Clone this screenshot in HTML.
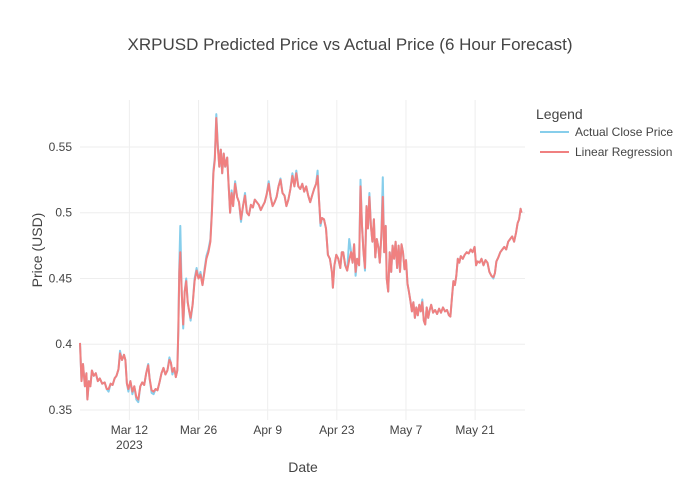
<!DOCTYPE html>
<html><head><meta charset="utf-8"><style>
body{margin:0;background:#fff}
svg{font-family:"Liberation Sans",Arial,sans-serif;display:block}
</style></head><body>
<svg id="chart" width="700" height="500">
<text x="350" y="50" text-anchor="middle" font-size="17" fill="#444">XRPUSD Predicted Price vs Actual Price (6 Hour Forecast)</text>
<g id="grid"></g><g id="series"></g><g id="axes"></g>
<text x="303" y="472" text-anchor="middle" font-size="14" fill="#444">Date</text>
<text transform="translate(42,250) rotate(-90)" text-anchor="middle" font-size="14" fill="#444">Price (USD)</text>
<g>
<text x="536" y="119" font-size="14" fill="#444">Legend</text>
<g><line x1="540" y1="132" x2="569" y2="132" stroke="#87CEEB" stroke-width="2"/><text x="575" y="136" font-size="12" fill="#444">Actual Close Price</text></g>
<g><line x1="540" y1="152" x2="569" y2="152" stroke="#F08080" stroke-width="2"/><text x="575" y="156" font-size="12" fill="#444">Linear Regression</text></g>
</g>
</svg>
<script>
// days since 2023-03-01
const days=[1.0,1.3,1.6,2.0,2.3,2.5,2.8,3.1,3.4,3.8,4.2,4.6,5.0,5.5,6.0,6.4,6.8,7.2,7.6,8.0,8.4,8.8,9.1,9.5,9.9,10.2,10.5,10.8,11.2,11.6,12.0,12.4,12.8,13.2,13.6,14.0,14.4,14.8,15.1,15.5,15.9,16.3,16.7,17.1,17.5,17.9,18.3,18.7,19.1,19.4,19.7,20.1,20.4,20.7,20.9,21.1,21.3,21.6,21.9,22.2,22.5,22.8,23.1,23.4,23.8,24.2,24.6,25.0,25.4,25.8,26.2,26.6,27.0,27.4,27.7,28.0,28.3,28.6,28.9,29.2,29.5,29.8,30.1,30.4,30.8,31.1,31.4,31.7,32.0,32.4,32.8,33.2,33.6,34.0,34.4,34.8,35.2,35.6,36.0,36.4,36.8,37.2,37.6,38.0,38.4,38.8,39.2,39.6,40.0,40.4,40.8,41.2,41.6,42.0,42.4,42.8,43.2,43.6,44.0,44.4,44.8,45.2,45.6,46.0,46.4,46.8,47.2,47.6,48.0,48.4,48.8,49.1,49.4,49.7,50.0,50.4,50.8,51.2,51.6,52.0,52.2,52.5,52.9,53.3,53.7,54.0,54.3,54.7,55.1,55.5,55.9,56.2,56.5,56.8,57.1,57.5,57.8,58.1,58.4,58.7,59.0,59.3,59.6,59.9,60.2,60.5,60.8,61.1,61.4,61.7,62.0,62.3,62.6,62.9,63.1,63.4,63.7,64.0,64.3,64.6,64.9,65.2,65.5,65.8,66.1,66.4,66.7,67.0,67.3,67.6,67.9,68.2,68.5,68.8,69.1,69.4,69.7,70.0,70.3,70.6,70.9,71.2,71.5,71.8,72.1,72.5,72.9,73.3,73.7,74.1,74.5,74.9,75.3,75.7,76.0,76.3,76.6,76.9,77.2,77.5,77.8,78.1,78.5,78.9,79.3,79.7,80.1,80.5,80.9,81.2,81.5,81.9,82.3,82.7,83.1,83.5,83.9,84.3,84.7,85.0,85.3,85.7,86.1,86.5,86.9,87.3,87.7,88.1,88.5,88.9,89.3,89.6,89.9,90.2,90.4];
const actual=[.401,.372,.385,.368,.378,.358,.372,.368,.380,.376,.378,.372,.374,.370,.371,.366,.364,.370,.369,.374,.376,.381,.395,.388,.392,.388,.370,.364,.372,.362,.368,.358,.356,.368,.371,.369,.378,.385,.374,.363,.362,.366,.365,.371,.378,.382,.377,.380,.390,.386,.377,.382,.375,.380,.410,.460,.490,.440,.412,.440,.450,.432,.425,.418,.430,.450,.458,.450,.455,.445,.457,.467,.472,.480,.502,.532,.542,.575,.552,.535,.548,.530,.545,.535,.542,.520,.500,.517,.505,.524,.512,.508,.493,.505,.515,.500,.498,.506,.504,.510,.508,.506,.502,.505,.508,.514,.524,.512,.505,.508,.512,.520,.526,.515,.513,.505,.510,.518,.530,.520,.532,.520,.518,.522,.516,.520,.513,.508,.513,.518,.522,.532,.510,.490,.496,.495,.488,.468,.465,.455,.443,.460,.468,.465,.458,.470,.470,.460,.456,.480,.470,.462,.476,.452,.465,.460,.525,.490,.470,.456,.505,.488,.515,.490,.478,.495,.466,.480,.474,.462,.482,.527,.470,.490,.450,.440,.470,.455,.475,.465,.478,.458,.475,.455,.476,.470,.457,.464,.446,.440,.433,.425,.432,.420,.428,.422,.430,.425,.434,.418,.415,.428,.420,.426,.430,.424,.426,.423,.427,.424,.428,.425,.426,.422,.421,.435,.448,.445,.452,.465,.462,.467,.465,.468,.470,.469,.472,.470,.474,.460,.463,.462,.465,.460,.464,.462,.455,.452,.450,.454,.463,.466,.470,.472,.474,.472,.478,.480,.482,.478,.485,.492,.495,.503,.500];
const predicted=[.401,.372,.385,.368,.378,.358,.372,.368,.380,.376,.378,.372,.374,.370,.371,.366,.366,.370,.369,.374,.376,.381,.393,.388,.392,.388,.370,.366,.372,.364,.368,.360,.358,.368,.371,.369,.378,.384,.374,.365,.364,.366,.365,.371,.378,.382,.377,.380,.388,.386,.379,.382,.375,.380,.410,.455,.470,.440,.415,.440,.448,.432,.425,.420,.430,.448,.456,.450,.453,.445,.455,.465,.470,.478,.500,.530,.540,.572,.550,.535,.548,.530,.545,.535,.542,.520,.500,.515,.505,.522,.512,.508,.495,.505,.513,.500,.498,.506,.504,.510,.508,.506,.502,.505,.508,.514,.522,.512,.505,.508,.512,.520,.525,.515,.513,.505,.510,.518,.528,.520,.530,.520,.518,.522,.516,.520,.513,.508,.513,.518,.522,.528,.510,.492,.496,.495,.488,.468,.465,.455,.443,.460,.468,.465,.458,.470,.470,.460,.456,.464,.470,.462,.476,.455,.465,.460,.520,.490,.470,.458,.505,.488,.512,.490,.478,.495,.466,.480,.474,.462,.482,.512,.470,.490,.450,.440,.470,.455,.475,.465,.478,.458,.475,.455,.476,.470,.457,.464,.446,.440,.433,.425,.432,.420,.428,.422,.430,.425,.432,.418,.415,.428,.420,.426,.430,.424,.426,.423,.427,.424,.428,.425,.426,.422,.421,.435,.448,.445,.452,.465,.462,.467,.465,.468,.470,.469,.472,.470,.474,.460,.463,.462,.465,.460,.464,.462,.455,.452,.451,.454,.463,.466,.470,.472,.474,.472,.478,.480,.482,.478,.485,.492,.495,.503,.500];
const yTicks=[0.35,0.4,0.45,0.5,0.55];
const yTickLabels=["0.35","0.4","0.45","0.5","0.55"];
const xTickDays=[11,25,39,53,67,81];
const xTickLabels=["Mar 12","Mar 26","Apr 9","Apr 23","May 7","May 21"];

const L=80,R=525,T=100,B=420;
const xd0=1,xd1=91.1,yd0=0.3424,yd1=0.5857;
const X=d=>L+(d-xd0)/(xd1-xd0)*(R-L);
const Y=v=>B-(v-yd0)/(yd1-yd0)*(B-T);
const NS="http://www.w3.org/2000/svg";
function mk(tag,attrs,parent,text){const e=document.createElementNS(NS,tag);for(const k in attrs)e.setAttribute(k,attrs[k]);if(text!==undefined)e.textContent=text;parent.appendChild(e);return e;}
const grid=document.getElementById('grid'),axes=document.getElementById('axes'),series=document.getElementById('series');
yTicks.forEach((v,i)=>{
  const gl=mk('line',{x1:L,x2:R,y1:Y(v),y2:Y(v),stroke:'#eee','stroke-width':1},grid);
  
  
  const t=mk('text',{x:L-8,y:Y(v)+4,'text-anchor':'end','font-size':12,fill:'#444'},axes,yTickLabels[i]);
  
  
});
xTickDays.forEach((d,i)=>{
  const gl=mk('line',{x1:X(d),x2:X(d),y1:T,y2:B,stroke:'#eee','stroke-width':1},grid);
  
  
  const t=mk('text',{x:X(d),y:B+14,'text-anchor':'middle','font-size':12,fill:'#444'},axes,xTickLabels[i]);
  
  
});
const yr=mk('text',{x:X(xTickDays[0]),y:B+29,'text-anchor':'middle','font-size':12,fill:'#444'},axes,'2023');


function line(vals,color,name){
  const d=vals.map((v,i)=>(i?'L':'M')+X(days[i]).toFixed(1)+','+Y(v).toFixed(1)).join('');
  const p=mk('path',{d:d,fill:'none',stroke:color,'stroke-width':2,'stroke-linejoin':'round'},series);
  
  
}
line(actual,'#87CEEB','actual-close-price-line');
line(predicted,'#F08080','linear-regression-line');
</script>
</body></html>
